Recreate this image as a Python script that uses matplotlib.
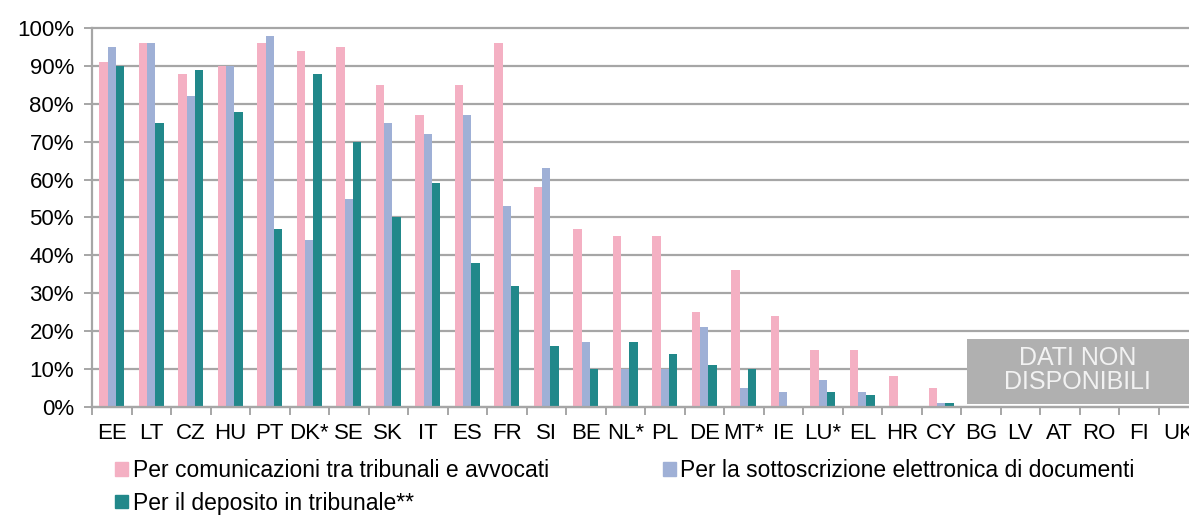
import matplotlib
matplotlib.use('Agg')
import matplotlib.pyplot as plt
from matplotlib.patches import Rectangle, Patch
from matplotlib.ticker import FuncFormatter
import numpy as np

plt.rcParams['font.family'] = ['Liberation Sans', 'DejaVu Sans']

paesi = ['EE', 'LT', 'CZ', 'HU', 'PT', 'DK*', 'SE', 'SK', 'IT', 'ES', 'FR', 'SI', 'BE', 'NL*',
         'PL', 'DE', 'MT*', 'IE', 'LU*', 'EL', 'HR', 'CY', 'BG', 'LV', 'AT', 'RO', 'FI', 'UK']
comunicazioni = [91, 96, 88, 90, 96, 94, 95, 85, 77, 85, 96, 58, 47, 45,
                 45, 25, 36, 24, 15, 15, 8, 5, 0, 0, 0, 0, 0, 0]
sottoscrizione = [95, 96, 82, 90, 98, 44, 55, 75, 72, 77, 53, 63, 17, 10,
                  10, 21, 5, 4, 7, 4, 0, 1, 0, 0, 0, 0, 0, 0]
deposito = [90, 75, 89, 78, 47, 88, 70, 50, 59, 38, 32, 16, 10, 17,
            14, 11, 10, 0, 4, 3, 0, 1, 0, 0, 0, 0, 0, 0]
etichette = ['Per comunicazioni tra tribunali e avvocati',
             'Per la sottoscrizione elettronica di documenti',
             'Per il deposito in tribunale**']

rosa = '#F4B0C3'
azzurro = '#9FB0D6'
verde = '#21888A'
grigio = '#A6A6A6'

fig = plt.figure(figsize=(11.89, 5.15), dpi=100)
ax = fig.add_axes([0.0774, 0.2103, 0.9302, 0.7348])

x = np.arange(len(paesi))
w = 0.21
ax.bar(x - w, comunicazioni, w, color=rosa, zorder=3)
ax.bar(x, sottoscrizione, w, color=azzurro, zorder=3)
ax.bar(x + w, deposito, w, color=verde, zorder=3)

ax.set_xlim(-0.5, len(paesi) - 0.5)
ax.set_ylim(0, 100)
ax.set_yticks(np.arange(0, 101, 10))
ax.yaxis.set_major_formatter(FuncFormatter(lambda v, p: '%d%%' % v))
ax.grid(axis='y', color=grigio, linewidth=1.6, zorder=0)
for g in ax.get_ygridlines():
    g.set_clip_on(False)

ax.set_xticks(x)
ax.set_xticklabels(paesi)
ax.set_xticks(np.arange(-0.5, len(paesi), 1), minor=True)
ax.tick_params(axis='x', which='major', length=0, pad=12, labelsize=16)
ax.tick_params(axis='x', which='minor', length=6, width=1.4, color=grigio, direction='out')
ax.tick_params(axis='y', length=6, width=1.4, color=grigio, pad=7, labelsize=16)

for s in ['top', 'right']:
    ax.spines[s].set_visible(False)
for s in ['left', 'bottom']:
    ax.spines[s].set_color(grigio)
    ax.spines[s].set_linewidth(1.6)
    ax.spines[s].set_zorder(4)

# riquadro dati non disponibili
ax.add_patch(Rectangle((21.65, 0.8), 6.5, 17.1, facecolor='#B0B0B0', edgecolor='none',
                       zorder=5, clip_on=False))
ax.text(24.45, 9.6, 'DATI NON\nDISPONIBILI', color='#F2F2F2', fontsize=18,
        ha='center', va='center', linespacing=1.0, zorder=6)

maniglie = [Patch(color=rosa), Patch(color=azzurro), Patch(color=verde)]
fig.legend([maniglie[0], maniglie[2], maniglie[1]], [etichette[0], etichette[2], etichette[1]],
           ncol=2, loc='upper left', bbox_to_anchor=(0.097, 0.108), frameon=False,
           fontsize=16.5, handlelength=0.55, handleheight=0.55, handletextpad=0.2,
           columnspacing=5.0, labelspacing=0.4, borderpad=0, borderaxespad=0)

fig.savefig('out.png', dpi=100)
